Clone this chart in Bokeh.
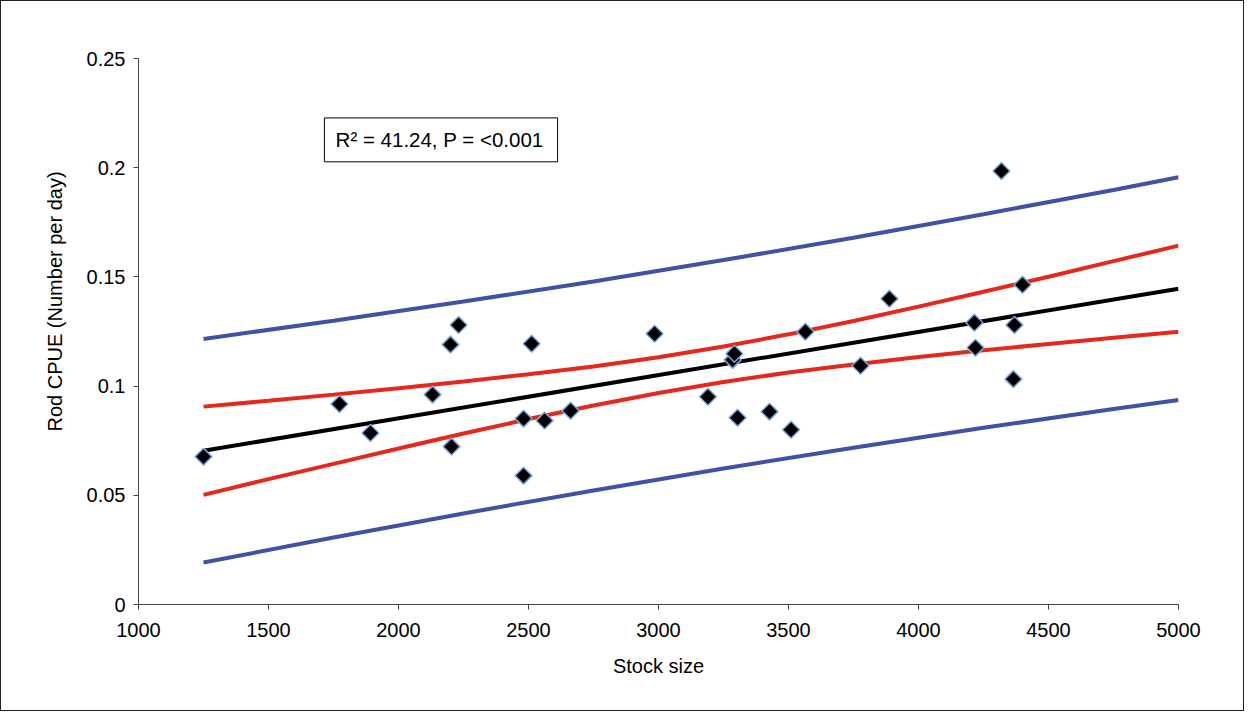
from bokeh.plotting import figure
from bokeh.models import Range1d, FixedTicker, BoxAnnotation, Label, Title
from bokeh.embed import file_html
from bokeh.resources import INLINE
import math

# Observed points
stock = [1250, 1773, 1892, 2131, 2200, 2204, 2231, 2481, 2481, 2512, 2562, 2662,
         2985, 3190, 3285, 3292, 3304, 3427, 3510, 3565, 3777, 3888, 4215, 4219,
         4319, 4369, 4365, 4400]
cpue = [0.0677, 0.0918, 0.0785, 0.0961, 0.1190, 0.0723, 0.1280, 0.0851, 0.0590,
        0.1194, 0.0842, 0.0887, 0.1240, 0.0951, 0.1120, 0.1148, 0.0855, 0.0883,
        0.0800, 0.1249, 0.1093, 0.1400, 0.1290, 0.1176, 0.1985, 0.1280, 0.1032,
        0.1464]

# Fitted regression line
fit_x = [1250, 5000]
fit_y = [0.0704, 0.1446]

# 95% confidence band (red)
ci_x = [1250, 1500, 1750, 2000, 2250, 2500, 2750, 3000, 3250, 3500, 3750,
        4000, 4250, 4500, 4750, 5000]
ci_upper = [0.0906, 0.0933, 0.0961, 0.0990, 0.1021, 0.1054, 0.1090, 0.1132,
            0.1181, 0.1237, 0.1298, 0.1364, 0.1432, 0.1501, 0.1572, 0.1643]
ci_lower = [0.0502, 0.0574, 0.0644, 0.0714, 0.0783, 0.0849, 0.0911, 0.0968,
            0.1019, 0.1062, 0.1099, 0.1133, 0.1164, 0.1193, 0.1221, 0.1249]

# 95% prediction band (blue)
pi_x = [1250, 1750, 2250, 2750, 3250, 3750, 4250, 4750, 5000]
pi_upper = [0.1216, 0.1299, 0.1387, 0.1479, 0.1577, 0.1679, 0.1787, 0.1898, 0.1956]
pi_lower = [0.0192, 0.0307, 0.0417, 0.0522, 0.0623, 0.0718, 0.0809, 0.0895, 0.0936]

x_ticks = [1000, 1500, 2000, 2500, 3000, 3500, 4000, 4500, 5000]
y_ticks = [0, 0.05, 0.1, 0.15, 0.2, 0.25]
y_tick_labels = ["0", "0.05", "0.1", "0.15", "0.2", "0.25"]

stat_text = "R\u00b2 = 41.24, P = <0.001"
x_title = "Stock size"
y_title = "Rod CPUE (Number per day)"

FONT = "Liberation Sans"

p = figure(width=1244, height=711, output_backend="svg", toolbar_location=None,
           x_range=Range1d(1000, 5000), y_range=Range1d(0, 0.25),
           min_border_left=137, min_border_right=67, min_border_top=57,
           min_border_bottom=108)
p.styles = {"border": "1.5px solid #222"}
p.outline_line_color = None
p.xgrid.visible = False
p.ygrid.visible = False
p.background_fill_color = "white"
p.border_fill_color = "white"

p.xaxis.ticker = FixedTicker(ticks=x_ticks)
p.yaxis.ticker = FixedTicker(ticks=y_ticks)
p.yaxis.major_label_overrides = {t: s for t, s in zip(y_ticks, y_tick_labels)}

for ax in (p.xaxis, p.yaxis):
    ax.axis_line_color = "#444444"
    ax.axis_line_width = 1
    ax.major_tick_line_color = "#444444"
    ax.major_tick_out = 5
    ax.major_tick_in = 0
    ax.minor_tick_line_color = None
    ax.major_label_text_font = FONT
    ax.major_label_text_font_size = "20px"
    ax.major_label_text_color = "black"
    ax.axis_label_text_font = FONT
    ax.axis_label_text_font_size = "20px"
    ax.axis_label_text_font_style = "normal"
    ax.axis_label_text_color = "black"

p.xaxis.axis_label = x_title
p.xaxis.major_label_standoff = 13
p.xaxis.axis_label_standoff = 15
p.yaxis.major_label_standoff = 8

# Y-axis title as a left-side title, placed as in the reference
ytitle = Title(text=y_title, align="left", offset=173, standoff=36,
               text_font=FONT, text_font_size="20px", text_font_style="normal",
               text_color="black")
p.add_layout(ytitle, "left")

blue = "#4052A3"
red = "#E5281B"
p.line(pi_x, pi_upper, line_color=blue, line_width=4)
p.line(pi_x, pi_lower, line_color=blue, line_width=4)
p.line(ci_x, ci_upper, line_color=red, line_width=4)
p.line(ci_x, ci_lower, line_color=red, line_width=4)
p.line(fit_x, fit_y, line_color="black", line_width=4)

p.scatter(stock, cpue, marker="square", angle=math.pi / 4, size=12,
          fill_color="black", line_color="#7FA9DE", line_width=1.5)

box = BoxAnnotation(left=1715, right=2612, top=0.2228, bottom=0.2027,
                    fill_color="white", fill_alpha=1, line_color="black",
                    line_width=1, line_alpha=1)
p.add_layout(box)
lab = Label(x=1758, y=0.2127, text=stat_text, text_font=FONT,
            text_font_size="20.5px", text_color="black", text_baseline="middle",
            text_align="left")
p.add_layout(lab)

open("out.html", "w").write(file_html(p, INLINE))
